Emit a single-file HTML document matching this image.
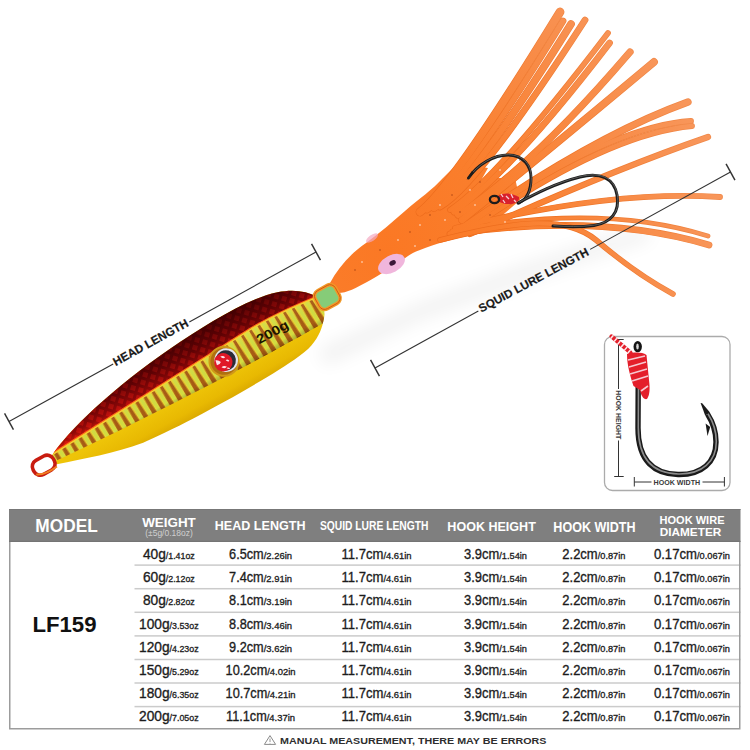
<!DOCTYPE html>
<html><head><meta charset="utf-8"><style>
html,body{margin:0;padding:0;background:#fff;}
body{width:750px;height:750px;position:relative;overflow:hidden;font-family:"Liberation Sans",sans-serif;}
.t{position:absolute;width:300px;text-align:center;white-space:nowrap;}
.s{font-size:9px;}
</style></head><body>
<svg style="position:absolute;left:0;top:0" width="750" height="750" viewBox="0 0 750 750">
<defs>
<radialGradient id="tg" cx="390" cy="250" r="330" gradientUnits="userSpaceOnUse">
 <stop offset="0" stop-color="#fb7824"/>
 <stop offset="0.35" stop-color="#fa7e2c"/>
 <stop offset="0.75" stop-color="#f88c48"/>
 <stop offset="1" stop-color="#f8965a"/>
</radialGradient>
<radialGradient id="tgd" cx="390" cy="250" r="330" gradientUnits="userSpaceOnUse">
 <stop offset="0" stop-color="#ec6818"/>
 <stop offset="0.5" stop-color="#ee7020"/>
 <stop offset="1" stop-color="#f08848"/>
</radialGradient>
<linearGradient id="yel" x1="0" y1="8" x2="0" y2="35" gradientUnits="userSpaceOnUse">
 <stop offset="0" stop-color="#eec408"/>
 <stop offset="0.6" stop-color="#e8b902"/>
 <stop offset="1" stop-color="#d8a600"/>
</linearGradient>
<linearGradient id="redg" x1="0" y1="-47" x2="0" y2="-4" gradientUnits="userSpaceOnUse">
 <stop offset="0" stop-color="#600406"/>
 <stop offset="0.08" stop-color="#420002"/>
 <stop offset="0.45" stop-color="#5e0204"/>
 <stop offset="0.8" stop-color="#900808"/>
 <stop offset="1" stop-color="#d01c0c"/>
</linearGradient>
<linearGradient id="redtop" x1="0" y1="-50" x2="0" y2="-10" gradientUnits="userSpaceOnUse">
 <stop offset="0" stop-color="#000" stop-opacity="0"/>
 <stop offset="1" stop-color="#000" stop-opacity="0"/>
</linearGradient>
<linearGradient id="bandshade" x1="0" y1="-18" x2="0" y2="12" gradientUnits="userSpaceOnUse">
 <stop offset="0" stop-color="#fff" stop-opacity="0.05"/>
 <stop offset="0.8" stop-color="#000" stop-opacity="0"/>
 <stop offset="1" stop-color="#402000" stop-opacity="0.25"/>
</linearGradient>
<pattern id="stripes" x="0" y="0" width="9.6" height="40" patternUnits="userSpaceOnUse" patternTransform="translate(0,-26) skewX(3)">
 <rect width="9.6" height="40" fill="#eed634"/>
 <rect x="0.8" width="3.6" height="40" fill="#c8de46" opacity="0.75"/>
 <path d="M6.2 0 L 8.2 0 L 9.6 40 L 4.4 40 Z" fill="#a85c14"/>
 <path d="M4.6 37 L 9.5 37 L 9.6 40 L 4.4 40 Z" fill="#7a3e0a"/>
</pattern>
<linearGradient id="scm" x1="0" y1="-46" x2="0" y2="-4" gradientUnits="userSpaceOnUse">
 <stop offset="0" stop-color="#fff" stop-opacity="0.15"/>
 <stop offset="0.5" stop-color="#fff" stop-opacity="0.5"/>
 <stop offset="1" stop-color="#fff" stop-opacity="1"/>
</linearGradient>
<mask id="scmask" maskUnits="userSpaceOnUse" x="-20" y="-70" width="360" height="80"><rect x="-20" y="-70" width="360" height="80" fill="url(#scm)"/></mask>
<pattern id="scales" width="8" height="8" patternUnits="userSpaceOnUse" patternTransform="rotate(45)">
 <rect x="1" y="1" width="5" height="5" fill="#ff2014" opacity="0.45"/>
</pattern>
<filter id="sh" x="-50%" y="-50%" width="200%" height="200%"><feGaussianBlur stdDeviation="9"/></filter>
</defs>
<path d="M318 350 L 420 303 L 520 266 L 600 240 L 650 226 L 650 240 L 600 256 L 520 284 L 420 320 L 325 366 Z" fill="#000" opacity="0.055" filter="url(#sh)"/><path d="M330 283 C 338 268 350 254 366 243 C 380 233 392 222 405 211 C 420 198 432 190 443 178 L 458 163 L 488 168 L 470 200 L 480 215 L 482 233 C 455 238 435 244 420 250 C 414 252 411 254 408 256 C 395 265 380 275 367 282 C 356 288 345 294 336 293 Z" fill="url(#tg)"/><path d="M450 205 L 490 178 L 515 178 L 520 200 L 482 233 Z" fill="url(#tg)"/><path d="M420.0 212.0 Q452.0 188.0 560.0 12.0" stroke="url(#tgd)" stroke-width="8.8" fill="none" stroke-linecap="round"/><path d="M427.0 210.0 Q463.0 184.5 563.0 21.0" stroke="url(#tgd)" stroke-width="6.8" fill="none" stroke-linecap="round"/><path d="M434.0 208.0 Q471.5 184.0 571.0 24.0" stroke="url(#tgd)" stroke-width="7.8" fill="none" stroke-linecap="round"/><path d="M440.0 207.0 Q477.5 186.5 585.0 20.0" stroke="url(#tgd)" stroke-width="6.8" fill="none" stroke-linecap="round"/><path d="M450.0 210.0 Q497.0 178.5 608.0 33.0" stroke="url(#tgd)" stroke-width="5.8" fill="none" stroke-linecap="round"/><path d="M454.0 212.0 Q510.2 172.5 609.5 43.0" stroke="url(#tgd)" stroke-width="6.8" fill="none" stroke-linecap="round"/><path d="M458.0 215.0 Q532.0 166.5 630.0 52.0" stroke="url(#tgd)" stroke-width="7.3" fill="none" stroke-linecap="round"/><path d="M462.0 220.0 Q538.0 159.0 654.0 62.0" stroke="url(#tgd)" stroke-width="7.8" fill="none" stroke-linecap="round"/><path d="M465.0 226.0 Q593.5 136.0 688.0 102.0" stroke="url(#tgd)" stroke-width="7.3" fill="none" stroke-linecap="round"/><path d="M466.0 226.0 Q607.5 126.5 691.0 121.0" stroke="url(#tgd)" stroke-width="5.8" fill="none" stroke-linecap="round"/><path d="M468.0 230.0 Q606.0 134.0 692.0 126.0" stroke="url(#tgd)" stroke-width="5.8" fill="none" stroke-linecap="round"/><path d="M470.0 234.0 Q611.0 170.5 708.0 137.0" stroke="url(#tgd)" stroke-width="6.3" fill="none" stroke-linecap="round"/><path d="M455.0 228.0 Q612.5 189.5 720.0 197.0" stroke="url(#tgd)" stroke-width="5.8" fill="none" stroke-linecap="round"/><path d="M452.0 231.0 Q600.0 202.5 708.0 236.0" stroke="url(#tgd)" stroke-width="4.8" fill="none" stroke-linecap="round"/><path d="M450.0 234.0 Q600.5 212.5 709.0 245.0" stroke="url(#tgd)" stroke-width="6.8" fill="none" stroke-linecap="round"/><path d="M420.0 212.0 Q452.0 188.0 560.0 12.0" stroke="url(#tg)" stroke-width="7.4" fill="none" stroke-linecap="round"/><path d="M427.0 210.0 Q463.0 184.5 563.0 21.0" stroke="url(#tg)" stroke-width="5.4" fill="none" stroke-linecap="round"/><path d="M434.0 208.0 Q471.5 184.0 571.0 24.0" stroke="url(#tg)" stroke-width="6.4" fill="none" stroke-linecap="round"/><path d="M440.0 207.0 Q477.5 186.5 585.0 20.0" stroke="url(#tg)" stroke-width="5.4" fill="none" stroke-linecap="round"/><path d="M450.0 210.0 Q497.0 178.5 608.0 33.0" stroke="url(#tg)" stroke-width="4.4" fill="none" stroke-linecap="round"/><path d="M454.0 212.0 Q510.2 172.5 609.5 43.0" stroke="url(#tg)" stroke-width="5.4" fill="none" stroke-linecap="round"/><path d="M458.0 215.0 Q532.0 166.5 630.0 52.0" stroke="url(#tg)" stroke-width="5.9" fill="none" stroke-linecap="round"/><path d="M462.0 220.0 Q538.0 159.0 654.0 62.0" stroke="url(#tg)" stroke-width="6.4" fill="none" stroke-linecap="round"/><path d="M465.0 226.0 Q593.5 136.0 688.0 102.0" stroke="url(#tg)" stroke-width="5.9" fill="none" stroke-linecap="round"/><path d="M466.0 226.0 Q607.5 126.5 691.0 121.0" stroke="url(#tg)" stroke-width="4.4" fill="none" stroke-linecap="round"/><path d="M468.0 230.0 Q606.0 134.0 692.0 126.0" stroke="url(#tg)" stroke-width="4.4" fill="none" stroke-linecap="round"/><path d="M470.0 234.0 Q611.0 170.5 708.0 137.0" stroke="url(#tg)" stroke-width="4.9" fill="none" stroke-linecap="round"/><path d="M455.0 228.0 Q612.5 189.5 720.0 197.0" stroke="url(#tg)" stroke-width="4.4" fill="none" stroke-linecap="round"/><path d="M452.0 231.0 Q600.0 202.5 708.0 236.0" stroke="url(#tg)" stroke-width="3.4" fill="none" stroke-linecap="round"/><path d="M450.0 234.0 Q600.5 212.5 709.0 245.0" stroke="url(#tg)" stroke-width="5.4" fill="none" stroke-linecap="round"/><path d="M440 240 C 510 222 565 214 596 240 C 613 254.5 640 276 673 294" stroke="url(#tgd)" stroke-width="5.6" fill="none" stroke-linecap="round"/><path d="M440 240 C 510 222 565 214 596 240 C 613 254.5 640 276 673 294" stroke="url(#tg)" stroke-width="4.3" fill="none" stroke-linecap="round"/><g transform="translate(391.5,264) rotate(-28)"><ellipse rx="14.5" ry="8.5" fill="#f0b6dc"/><ellipse cx="1.5" cy="-0.5" rx="3.4" ry="2.4" fill="#3a1838"/></g><ellipse cx="372" cy="238" rx="7" ry="3" transform="rotate(-35 372 238)" fill="#f4a8c0" opacity="0.7"/><circle cx="355" cy="270" r="0.8" fill="#a04010" opacity="0.85"/><circle cx="362" cy="262" r="0.8" fill="#fff" opacity="0.85"/><circle cx="380" cy="250" r="0.8" fill="#a04010" opacity="0.85"/><circle cx="398" cy="240" r="0.8" fill="#fff" opacity="0.85"/><circle cx="410" cy="232" r="0.8" fill="#a04010" opacity="0.85"/><circle cx="420" cy="225" r="0.8" fill="#fff" opacity="0.85"/><circle cx="430" cy="215" r="0.8" fill="#a04010" opacity="0.85"/><circle cx="440" cy="205" r="0.8" fill="#fff" opacity="0.85"/><circle cx="452" cy="195" r="0.8" fill="#a04010" opacity="0.85"/><circle cx="470" cy="190" r="0.8" fill="#fff" opacity="0.85"/><circle cx="480" cy="182" r="0.8" fill="#a04010" opacity="0.85"/><circle cx="500" cy="170" r="0.8" fill="#fff" opacity="0.85"/><circle cx="520" cy="160" r="0.8" fill="#a04010" opacity="0.85"/><circle cx="445" cy="220" r="0.8" fill="#fff" opacity="0.85"/><circle cx="460" cy="212" r="0.8" fill="#a04010" opacity="0.85"/><circle cx="475" cy="205" r="0.8" fill="#fff" opacity="0.85"/><circle cx="490" cy="215" r="0.8" fill="#a04010" opacity="0.85"/><circle cx="505" cy="222" r="0.8" fill="#fff" opacity="0.85"/><circle cx="430" cy="240" r="0.8" fill="#a04010" opacity="0.85"/><circle cx="415" cy="246" r="0.8" fill="#fff" opacity="0.85"/><path d="M468.5 178 C 478 164 494 155 508 155 C 524 155.5 531 166 531 178 C 531 191 527 199 519 203" stroke="#1c1c1c" stroke-width="2.9" fill="none" stroke-linecap="round"/><path d="M468.5 178 C 478 164 494 155 508 155 C 524 155.5 531 166 531 178 C 531 191 527 199 519 203" stroke="#6a6a6a" stroke-width="0.8" fill="none" transform="translate(0.3,-0.4)"/><path d="M518 203 C 535 194 556 183 580 177 C 600 172 614 178 617 195 C 620 212 611 223 594 225.5 C 580 227.5 566 227 553 226" stroke="#1c1c1c" stroke-width="3.0" fill="none" stroke-linecap="round"/><path d="M518 203 C 535 194 556 183 580 177 C 600 172 614 178 617 195 C 620 212 611 223 594 225.5 C 580 227.5 566 227 553 226" stroke="#6a6a6a" stroke-width="0.8" fill="none" transform="translate(0.3,-0.4)"/><path d="M466.5 180 L 472 171 L 474 173 Z" fill="#1c1c1c"/><path d="M497 197 C 503 192 512 193 519 197 C 520 201 515 205 508 204 C 502 204 498 202 497 197 Z" fill="#d8202c"/><path d="M501 194 l2 3 M506 196 l3 3 M511 194 l2 4 M503 200 l2 3 M514 200 l2 2" stroke="#f6d0d8" stroke-width="1.3"/><ellipse cx="494.5" cy="199.5" rx="4.6" ry="3.6" fill="none" stroke="#1c1c1c" stroke-width="2.3"/><g transform="translate(50,460) rotate(-28.7)"><clipPath id="bc"><path d="M 4 -3 C 30 -17 90 -33 160 -40 C 200 -44 250 -47 280 -38 C 296 -33 306 -25 313 -15 C 316 -6 312 4 306 10 C 300 17 292 23 280 26.5 C 265 29.5 250 31 230 31.5 C 180 33.5 120 32.5 90 29.5 C 60 25 30 15 4 7 Z"/></clipPath><path d="M 4 -3 C 30 -17 90 -33 160 -40 C 200 -44 250 -47 280 -38 C 296 -33 306 -25 313 -15 C 316 -6 312 4 306 10 C 300 17 292 23 280 26.5 C 265 29.5 250 31 230 31.5 C 180 33.5 120 32.5 90 29.5 C 60 25 30 15 4 7 Z" fill="url(#yel)"/><path d="M 0 -60 L 330 -60 L 330 -13 C 300 -17 270 -20 240 -19 C 150 -14 60 -7 0 -4 Z" fill="url(#redg)" clip-path="url(#bc)"/><g mask="url(#scmask)"><path d="M 0 -60 L 330 -60 L 330 -13 C 300 -17 270 -20 240 -19 C 150 -14 60 -7 0 -4 Z" fill="url(#scales)" clip-path="url(#bc)"/></g><path d="M 0 -60 L 330 -60 L 330 -50 L 0 -10 Z" fill="url(#redtop)" clip-path="url(#bc)"/><path d="M 0 -4 C 60 -7 150 -14 240 -19 C 270 -20 300 -17 330 -13 L 330 11 C 300 11 260 12 220 11.5 C 150 10 60 8 0 3 Z" fill="url(#stripes)" clip-path="url(#bc)"/><path d="M 0 -4 C 60 -7 150 -14 240 -19 C 270 -20 300 -17 330 -13 L 330 11 C 300 11 260 12 220 11.5 C 150 10 60 8 0 3 Z" fill="url(#bandshade)" clip-path="url(#bc)"/><path d="M 0 -4.5 C 60 -7.5 150 -14.5 240 -19.5 C 270 -20.5 300 -17.5 330 -13.5" stroke="#ff6a18" stroke-width="1.2" fill="none" clip-path="url(#bc)"/><path d="M 0 -3.3 C 60 -6.3 150 -13.3 240 -18.3 C 270 -19.3 300 -16.3 330 -12.3" stroke="#f6d030" stroke-width="1.4" fill="none" clip-path="url(#bc)"/><circle cx="200" cy="-3" r="15.5" fill="#d09818"/><circle cx="200" cy="-3" r="13.5" fill="#b07010"/><circle cx="202.5" cy="-3" r="11.8" fill="#e4e4ec"/><circle cx="202" cy="-3" r="10.2" fill="#2c2c38"/><circle cx="199" cy="-2.5" r="9.2" fill="#e01828"/><path d="M193 -8 q3 1 4 4 q-2 2 -5 1 z M199 -9 q3 0 4 3 q-3 1 -4 -3 z M195 1 q3 -1 5 2 q-3 2 -5 -2 z M202 -3 q2 -1 3 2 q-2 1 -3 -2 z M199 4 q2 0 3 2 q-2 1 -3 -2z" fill="#fbe4ea"/><text x="239" y="-1" font-size="13" font-weight="700" fill="#1c1400" font-family="Liberation Sans" textLength="35" lengthAdjust="spacingAndGlyphs">200g</text><rect x="-19.5" y="-6.5" width="23" height="16" rx="7" fill="none" stroke="#c81c10" stroke-width="3.6"/><path d="M -19 6 Q -12 11 3 9" stroke="#f08020" stroke-width="2" fill="none"/><rect x="310" y="-20" width="23" height="20.5" rx="6" fill="#86cc78" stroke="#f09a28" stroke-width="3.6"/><rect x="310" y="-20" width="23" height="20.5" rx="6" fill="none" stroke="#d05010" stroke-width="0.8" transform="translate(0,0)"/></g><path d="M9.00 421.50 L113.18 363.98" stroke="#333" stroke-width="1.1"/><path d="M189.34 321.93 L316.00 252.00" stroke="#333" stroke-width="1.1"/><path d="M4.55 413.45 L13.45 429.55" stroke="#333" stroke-width="1.4500000000000002"/><path d="M311.55 243.95 L320.45 260.05" stroke="#333" stroke-width="1.4500000000000002"/><text transform="translate(115.86,366.16) rotate(-28.90)" font-size="11.8" font-weight="700" fill="#1a1a1a" stroke="#1a1a1a" stroke-width="0.2" font-family="Liberation Sans" textLength="84" lengthAdjust="spacingAndGlyphs">HEAD LENGTH</text><path d="M375.00 368.00 L478.34 311.03" stroke="#333" stroke-width="1.1"/><path d="M590.16 249.37 L730.50 172.00" stroke="#333" stroke-width="1.1"/><path d="M370.56 359.94 L379.44 376.06" stroke="#333" stroke-width="1.4500000000000002"/><path d="M726.06 163.94 L734.94 180.06" stroke="#333" stroke-width="1.4500000000000002"/><text transform="translate(481.36,312.79) rotate(-28.27)" font-size="11.6" font-weight="700" fill="#1a1a1a" stroke="#1a1a1a" stroke-width="0.2" font-family="Liberation Sans" textLength="123" lengthAdjust="spacingAndGlyphs">SQUID LURE LENGTH</text><rect x="604.5" y="336.5" width="125.5" height="154" rx="8" fill="#fff" stroke="#ababab" stroke-width="1.3"/><path d="M618.5 339.5 V476.5 M614.2 339.5 H623.7 M614.2 476.5 H623.7" stroke="#333" stroke-width="1"/><rect x="615" y="389" width="8" height="51.5" fill="#fff"/><text transform="translate(616.2,390.3) rotate(90)" font-size="7.2" font-weight="700" fill="#3a3a3a" font-family="Liberation Sans" textLength="49" lengthAdjust="spacingAndGlyphs">HOOK HEIGHT</text><path d="M634.3 477 V486.5 M724.4 477 V486.5 M634.3 482 H724.4" stroke="#333" stroke-width="1"/><rect x="651.5" y="477.5" width="51" height="9" fill="#fff"/><text x="653.6" y="485.2" font-size="7.4" font-weight="700" fill="#3a3a3a" font-family="Liberation Sans" textLength="46.5" lengthAdjust="spacingAndGlyphs">HOOK WIDTH</text><path d="M638.2 386 L 638 428 C 638 462 655 474 678 474.5 C 702 475 716 462 716 442 C 716 430 712 421 707.5 414" stroke="#1a1a1a" stroke-width="5.4" fill="none" stroke-linecap="butt"/><path d="M638.2 386 L 638 428 C 638 462 655 474 678 474.5 C 702 475 716 462 716 442 C 716 430 712 421 707.5 414" stroke="#8c8c8c" stroke-width="1.6" fill="none" transform="translate(0.3,-0.5)"/><path d="M705.2 415.5 L 700.6 403 L 702.2 403.2 L 710 412.5 Z" fill="#1a1a1a"/><path d="M710.2 427 L 705.6 423.5 L 707.5 436 Z" fill="#1a1a1a"/><ellipse cx="637.7" cy="346.7" rx="4.2" ry="5.6" fill="#151515"/><ellipse cx="637.5" cy="346.5" rx="1.3" ry="3" fill="#d8d8d8"/><path d="M611.5 336.4 L 630.5 352.5" stroke="#e4202c" stroke-width="4.2" stroke-linecap="round"/><path d="M611.5 336.4 L 630.5 352.5" stroke="#fff" stroke-width="4.2" stroke-dasharray="1.5 3" opacity="0.9"/><path d="M627 354 C 634 352 642 352 646.5 355 L 649 380 C 650 388 650 395 647 399 C 644 400 641 396 640 390 L 633.5 386 C 630 375 627 365 627 354 Z" fill="#e41e2a"/><path d="M628 360 L 645 356 M629 367 L 646 362 M630 374 L 647 369 M632 381 L 648 376 M641 391 L 648 386" stroke="#f6c8d0" stroke-width="1.6" fill="none"/></svg>
<svg style="position:absolute;left:0;top:0" width="750" height="750" viewBox="0 0 750 750" font-family="Liberation Sans"><rect x="9" y="509" width="731.5" height="33" fill="#7f7f7f"/><rect x="9" y="509" width="731.5" height="1" fill="#777"/><rect x="9" y="540.8" width="731.5" height="1.2" fill="#747474"/><rect x="134.5" y="564.35" width="606.0" height="1.5" fill="#cbcbcb"/><rect x="134.5" y="587.95" width="606.0" height="1.5" fill="#cbcbcb"/><rect x="134.5" y="611.55" width="606.0" height="1.5" fill="#cbcbcb"/><rect x="134.5" y="635.15" width="606.0" height="1.5" fill="#cbcbcb"/><rect x="134.5" y="658.75" width="606.0" height="1.5" fill="#cbcbcb"/><rect x="134.5" y="682.25" width="606.0" height="1.5" fill="#cbcbcb"/><rect x="134.5" y="705.85" width="606.0" height="1.5" fill="#cbcbcb"/><path d="M9.75 542 V728.7 H739.75 V542" fill="none" stroke="#9c9c9c" stroke-width="1.5"/><text x="35.36" y="531.75" font-size="18.46" font-weight="700" fill="#fff" textLength="62.38" lengthAdjust="spacingAndGlyphs" >MODEL</text><text x="142.19" y="526.95" font-size="12.65" font-weight="700" fill="#fff" textLength="53.61" lengthAdjust="spacingAndGlyphs" >WEIGHT</text><text x="145.17" y="536.30" font-size="8.30" font-weight="400" fill="#cfcfcf" textLength="47.66" lengthAdjust="spacingAndGlyphs" >(±5g/0.18oz)</text><text x="214.78" y="529.95" font-size="13.08" font-weight="700" fill="#fff" textLength="90.75" lengthAdjust="spacingAndGlyphs" >HEAD LENGTH</text><text x="319.89" y="529.95" font-size="12.65" font-weight="700" fill="#fff" textLength="108.51" lengthAdjust="spacingAndGlyphs" >SQUID LURE LENGTH</text><text x="447.37" y="531.25" font-size="13.23" font-weight="700" fill="#fff" textLength="88.46" lengthAdjust="spacingAndGlyphs" >HOOK HEIGHT</text><text x="553.34" y="531.55" font-size="14.10" font-weight="700" fill="#fff" textLength="82.23" lengthAdjust="spacingAndGlyphs" >HOOK WIDTH</text><text x="659.49" y="523.55" font-size="10.32" font-weight="700" fill="#fff" textLength="65.03" lengthAdjust="spacingAndGlyphs" >HOOK WIRE</text><text x="659.68" y="535.85" font-size="10.61" font-weight="700" fill="#fff" textLength="61.65" lengthAdjust="spacingAndGlyphs" >DIAMETER</text><text x="32.38" y="632.25" font-size="22.97" font-weight="700" fill="#111" textLength="64.14" lengthAdjust="spacingAndGlyphs" >LF159</text><text x="142.90" y="559.00" font-size="14.6" fill="#1c1c1c" stroke="#1c1c1c" stroke-width="0.35" textLength="22.90" lengthAdjust="spacingAndGlyphs">40g</text><text x="165.80" y="559.00" font-size="8.9" fill="#1c1c1c" stroke="#1c1c1c" stroke-width="0.3" textLength="29.00" lengthAdjust="spacingAndGlyphs">/1.41oz</text><text x="142.90" y="582.20" font-size="14.6" fill="#1c1c1c" stroke="#1c1c1c" stroke-width="0.35" textLength="22.90" lengthAdjust="spacingAndGlyphs">60g</text><text x="165.80" y="582.20" font-size="8.9" fill="#1c1c1c" stroke="#1c1c1c" stroke-width="0.3" textLength="29.00" lengthAdjust="spacingAndGlyphs">/2.12oz</text><text x="142.90" y="605.40" font-size="14.6" fill="#1c1c1c" stroke="#1c1c1c" stroke-width="0.35" textLength="22.90" lengthAdjust="spacingAndGlyphs">80g</text><text x="165.80" y="605.40" font-size="8.9" fill="#1c1c1c" stroke="#1c1c1c" stroke-width="0.3" textLength="29.00" lengthAdjust="spacingAndGlyphs">/2.82oz</text><text x="139.08" y="628.60" font-size="14.6" fill="#1c1c1c" stroke="#1c1c1c" stroke-width="0.35" textLength="30.53" lengthAdjust="spacingAndGlyphs">100g</text><text x="169.62" y="628.60" font-size="8.9" fill="#1c1c1c" stroke="#1c1c1c" stroke-width="0.3" textLength="29.00" lengthAdjust="spacingAndGlyphs">/3.53oz</text><text x="139.08" y="651.80" font-size="14.6" fill="#1c1c1c" stroke="#1c1c1c" stroke-width="0.35" textLength="30.53" lengthAdjust="spacingAndGlyphs">120g</text><text x="169.62" y="651.80" font-size="8.9" fill="#1c1c1c" stroke="#1c1c1c" stroke-width="0.3" textLength="29.00" lengthAdjust="spacingAndGlyphs">/4.23oz</text><text x="139.08" y="675.00" font-size="14.6" fill="#1c1c1c" stroke="#1c1c1c" stroke-width="0.35" textLength="30.53" lengthAdjust="spacingAndGlyphs">150g</text><text x="169.62" y="675.00" font-size="8.9" fill="#1c1c1c" stroke="#1c1c1c" stroke-width="0.3" textLength="29.00" lengthAdjust="spacingAndGlyphs">/5.29oz</text><text x="139.08" y="698.20" font-size="14.6" fill="#1c1c1c" stroke="#1c1c1c" stroke-width="0.35" textLength="30.53" lengthAdjust="spacingAndGlyphs">180g</text><text x="169.62" y="698.20" font-size="8.9" fill="#1c1c1c" stroke="#1c1c1c" stroke-width="0.3" textLength="29.00" lengthAdjust="spacingAndGlyphs">/6.35oz</text><text x="139.08" y="721.40" font-size="14.6" fill="#1c1c1c" stroke="#1c1c1c" stroke-width="0.35" textLength="30.53" lengthAdjust="spacingAndGlyphs">200g</text><text x="169.62" y="721.40" font-size="8.9" fill="#1c1c1c" stroke="#1c1c1c" stroke-width="0.3" textLength="29.00" lengthAdjust="spacingAndGlyphs">/7.05oz</text><text x="229.10" y="559.00" font-size="14.6" fill="#1c1c1c" stroke="#1c1c1c" stroke-width="0.35" textLength="34.60" lengthAdjust="spacingAndGlyphs">6.5cm</text><text x="263.70" y="559.00" font-size="8.9" fill="#1c1c1c" stroke="#1c1c1c" stroke-width="0.3" textLength="28.30" lengthAdjust="spacingAndGlyphs">/2.26in</text><text x="229.10" y="582.20" font-size="14.6" fill="#1c1c1c" stroke="#1c1c1c" stroke-width="0.35" textLength="34.60" lengthAdjust="spacingAndGlyphs">7.4cm</text><text x="263.70" y="582.20" font-size="8.9" fill="#1c1c1c" stroke="#1c1c1c" stroke-width="0.3" textLength="28.30" lengthAdjust="spacingAndGlyphs">/2.91in</text><text x="229.10" y="605.40" font-size="14.6" fill="#1c1c1c" stroke="#1c1c1c" stroke-width="0.35" textLength="34.60" lengthAdjust="spacingAndGlyphs">8.1cm</text><text x="263.70" y="605.40" font-size="8.9" fill="#1c1c1c" stroke="#1c1c1c" stroke-width="0.3" textLength="28.30" lengthAdjust="spacingAndGlyphs">/3.19in</text><text x="229.10" y="628.60" font-size="14.6" fill="#1c1c1c" stroke="#1c1c1c" stroke-width="0.35" textLength="34.60" lengthAdjust="spacingAndGlyphs">8.8cm</text><text x="263.70" y="628.60" font-size="8.9" fill="#1c1c1c" stroke="#1c1c1c" stroke-width="0.3" textLength="28.30" lengthAdjust="spacingAndGlyphs">/3.46in</text><text x="229.10" y="651.80" font-size="14.6" fill="#1c1c1c" stroke="#1c1c1c" stroke-width="0.35" textLength="34.60" lengthAdjust="spacingAndGlyphs">9.2cm</text><text x="263.70" y="651.80" font-size="8.9" fill="#1c1c1c" stroke="#1c1c1c" stroke-width="0.3" textLength="28.30" lengthAdjust="spacingAndGlyphs">/3.62in</text><text x="225.57" y="675.00" font-size="14.6" fill="#1c1c1c" stroke="#1c1c1c" stroke-width="0.35" textLength="41.67" lengthAdjust="spacingAndGlyphs">10.2cm</text><text x="267.23" y="675.00" font-size="8.9" fill="#1c1c1c" stroke="#1c1c1c" stroke-width="0.3" textLength="28.30" lengthAdjust="spacingAndGlyphs">/4.02in</text><text x="225.57" y="698.20" font-size="14.6" fill="#1c1c1c" stroke="#1c1c1c" stroke-width="0.35" textLength="41.67" lengthAdjust="spacingAndGlyphs">10.7cm</text><text x="267.23" y="698.20" font-size="8.9" fill="#1c1c1c" stroke="#1c1c1c" stroke-width="0.3" textLength="28.30" lengthAdjust="spacingAndGlyphs">/4.21in</text><text x="226.04" y="721.40" font-size="14.6" fill="#1c1c1c" stroke="#1c1c1c" stroke-width="0.35" textLength="40.72" lengthAdjust="spacingAndGlyphs">11.1cm</text><text x="266.76" y="721.40" font-size="8.9" fill="#1c1c1c" stroke="#1c1c1c" stroke-width="0.3" textLength="28.30" lengthAdjust="spacingAndGlyphs">/4.37in</text><text x="341.40" y="559.00" font-size="14.6" fill="#1c1c1c" stroke="#1c1c1c" stroke-width="0.35" textLength="42.00" lengthAdjust="spacingAndGlyphs">11.7cm</text><text x="383.40" y="559.00" font-size="8.9" fill="#1c1c1c" stroke="#1c1c1c" stroke-width="0.3" textLength="28.20" lengthAdjust="spacingAndGlyphs">/4.61in</text><text x="341.40" y="582.20" font-size="14.6" fill="#1c1c1c" stroke="#1c1c1c" stroke-width="0.35" textLength="42.00" lengthAdjust="spacingAndGlyphs">11.7cm</text><text x="383.40" y="582.20" font-size="8.9" fill="#1c1c1c" stroke="#1c1c1c" stroke-width="0.3" textLength="28.20" lengthAdjust="spacingAndGlyphs">/4.61in</text><text x="341.40" y="605.40" font-size="14.6" fill="#1c1c1c" stroke="#1c1c1c" stroke-width="0.35" textLength="42.00" lengthAdjust="spacingAndGlyphs">11.7cm</text><text x="383.40" y="605.40" font-size="8.9" fill="#1c1c1c" stroke="#1c1c1c" stroke-width="0.3" textLength="28.20" lengthAdjust="spacingAndGlyphs">/4.61in</text><text x="341.40" y="628.60" font-size="14.6" fill="#1c1c1c" stroke="#1c1c1c" stroke-width="0.35" textLength="42.00" lengthAdjust="spacingAndGlyphs">11.7cm</text><text x="383.40" y="628.60" font-size="8.9" fill="#1c1c1c" stroke="#1c1c1c" stroke-width="0.3" textLength="28.20" lengthAdjust="spacingAndGlyphs">/4.61in</text><text x="341.40" y="651.80" font-size="14.6" fill="#1c1c1c" stroke="#1c1c1c" stroke-width="0.35" textLength="42.00" lengthAdjust="spacingAndGlyphs">11.7cm</text><text x="383.40" y="651.80" font-size="8.9" fill="#1c1c1c" stroke="#1c1c1c" stroke-width="0.3" textLength="28.20" lengthAdjust="spacingAndGlyphs">/4.61in</text><text x="341.40" y="675.00" font-size="14.6" fill="#1c1c1c" stroke="#1c1c1c" stroke-width="0.35" textLength="42.00" lengthAdjust="spacingAndGlyphs">11.7cm</text><text x="383.40" y="675.00" font-size="8.9" fill="#1c1c1c" stroke="#1c1c1c" stroke-width="0.3" textLength="28.20" lengthAdjust="spacingAndGlyphs">/4.61in</text><text x="341.40" y="698.20" font-size="14.6" fill="#1c1c1c" stroke="#1c1c1c" stroke-width="0.35" textLength="42.00" lengthAdjust="spacingAndGlyphs">11.7cm</text><text x="383.40" y="698.20" font-size="8.9" fill="#1c1c1c" stroke="#1c1c1c" stroke-width="0.3" textLength="28.20" lengthAdjust="spacingAndGlyphs">/4.61in</text><text x="341.40" y="721.40" font-size="14.6" fill="#1c1c1c" stroke="#1c1c1c" stroke-width="0.35" textLength="42.00" lengthAdjust="spacingAndGlyphs">11.7cm</text><text x="383.40" y="721.40" font-size="8.9" fill="#1c1c1c" stroke="#1c1c1c" stroke-width="0.3" textLength="28.20" lengthAdjust="spacingAndGlyphs">/4.61in</text><text x="464.10" y="559.00" font-size="14.6" fill="#1c1c1c" stroke="#1c1c1c" stroke-width="0.35" textLength="35.20" lengthAdjust="spacingAndGlyphs">3.9cm</text><text x="499.30" y="559.00" font-size="8.9" fill="#1c1c1c" stroke="#1c1c1c" stroke-width="0.3" textLength="27.70" lengthAdjust="spacingAndGlyphs">/1.54in</text><text x="464.10" y="582.20" font-size="14.6" fill="#1c1c1c" stroke="#1c1c1c" stroke-width="0.35" textLength="35.20" lengthAdjust="spacingAndGlyphs">3.9cm</text><text x="499.30" y="582.20" font-size="8.9" fill="#1c1c1c" stroke="#1c1c1c" stroke-width="0.3" textLength="27.70" lengthAdjust="spacingAndGlyphs">/1.54in</text><text x="464.10" y="605.40" font-size="14.6" fill="#1c1c1c" stroke="#1c1c1c" stroke-width="0.35" textLength="35.20" lengthAdjust="spacingAndGlyphs">3.9cm</text><text x="499.30" y="605.40" font-size="8.9" fill="#1c1c1c" stroke="#1c1c1c" stroke-width="0.3" textLength="27.70" lengthAdjust="spacingAndGlyphs">/1.54in</text><text x="464.10" y="628.60" font-size="14.6" fill="#1c1c1c" stroke="#1c1c1c" stroke-width="0.35" textLength="35.20" lengthAdjust="spacingAndGlyphs">3.9cm</text><text x="499.30" y="628.60" font-size="8.9" fill="#1c1c1c" stroke="#1c1c1c" stroke-width="0.3" textLength="27.70" lengthAdjust="spacingAndGlyphs">/1.54in</text><text x="464.10" y="651.80" font-size="14.6" fill="#1c1c1c" stroke="#1c1c1c" stroke-width="0.35" textLength="35.20" lengthAdjust="spacingAndGlyphs">3.9cm</text><text x="499.30" y="651.80" font-size="8.9" fill="#1c1c1c" stroke="#1c1c1c" stroke-width="0.3" textLength="27.70" lengthAdjust="spacingAndGlyphs">/1.54in</text><text x="464.10" y="675.00" font-size="14.6" fill="#1c1c1c" stroke="#1c1c1c" stroke-width="0.35" textLength="35.20" lengthAdjust="spacingAndGlyphs">3.9cm</text><text x="499.30" y="675.00" font-size="8.9" fill="#1c1c1c" stroke="#1c1c1c" stroke-width="0.3" textLength="27.70" lengthAdjust="spacingAndGlyphs">/1.54in</text><text x="464.10" y="698.20" font-size="14.6" fill="#1c1c1c" stroke="#1c1c1c" stroke-width="0.35" textLength="35.20" lengthAdjust="spacingAndGlyphs">3.9cm</text><text x="499.30" y="698.20" font-size="8.9" fill="#1c1c1c" stroke="#1c1c1c" stroke-width="0.3" textLength="27.70" lengthAdjust="spacingAndGlyphs">/1.54in</text><text x="464.10" y="721.40" font-size="14.6" fill="#1c1c1c" stroke="#1c1c1c" stroke-width="0.35" textLength="35.20" lengthAdjust="spacingAndGlyphs">3.9cm</text><text x="499.30" y="721.40" font-size="8.9" fill="#1c1c1c" stroke="#1c1c1c" stroke-width="0.3" textLength="27.70" lengthAdjust="spacingAndGlyphs">/1.54in</text><text x="562.30" y="559.00" font-size="14.6" fill="#1c1c1c" stroke="#1c1c1c" stroke-width="0.35" textLength="35.40" lengthAdjust="spacingAndGlyphs">2.2cm</text><text x="597.70" y="559.00" font-size="8.9" fill="#1c1c1c" stroke="#1c1c1c" stroke-width="0.3" textLength="27.70" lengthAdjust="spacingAndGlyphs">/0.87in</text><text x="562.30" y="582.20" font-size="14.6" fill="#1c1c1c" stroke="#1c1c1c" stroke-width="0.35" textLength="35.40" lengthAdjust="spacingAndGlyphs">2.2cm</text><text x="597.70" y="582.20" font-size="8.9" fill="#1c1c1c" stroke="#1c1c1c" stroke-width="0.3" textLength="27.70" lengthAdjust="spacingAndGlyphs">/0.87in</text><text x="562.30" y="605.40" font-size="14.6" fill="#1c1c1c" stroke="#1c1c1c" stroke-width="0.35" textLength="35.40" lengthAdjust="spacingAndGlyphs">2.2cm</text><text x="597.70" y="605.40" font-size="8.9" fill="#1c1c1c" stroke="#1c1c1c" stroke-width="0.3" textLength="27.70" lengthAdjust="spacingAndGlyphs">/0.87in</text><text x="562.30" y="628.60" font-size="14.6" fill="#1c1c1c" stroke="#1c1c1c" stroke-width="0.35" textLength="35.40" lengthAdjust="spacingAndGlyphs">2.2cm</text><text x="597.70" y="628.60" font-size="8.9" fill="#1c1c1c" stroke="#1c1c1c" stroke-width="0.3" textLength="27.70" lengthAdjust="spacingAndGlyphs">/0.87in</text><text x="562.30" y="651.80" font-size="14.6" fill="#1c1c1c" stroke="#1c1c1c" stroke-width="0.35" textLength="35.40" lengthAdjust="spacingAndGlyphs">2.2cm</text><text x="597.70" y="651.80" font-size="8.9" fill="#1c1c1c" stroke="#1c1c1c" stroke-width="0.3" textLength="27.70" lengthAdjust="spacingAndGlyphs">/0.87in</text><text x="562.30" y="675.00" font-size="14.6" fill="#1c1c1c" stroke="#1c1c1c" stroke-width="0.35" textLength="35.40" lengthAdjust="spacingAndGlyphs">2.2cm</text><text x="597.70" y="675.00" font-size="8.9" fill="#1c1c1c" stroke="#1c1c1c" stroke-width="0.3" textLength="27.70" lengthAdjust="spacingAndGlyphs">/0.87in</text><text x="562.30" y="698.20" font-size="14.6" fill="#1c1c1c" stroke="#1c1c1c" stroke-width="0.35" textLength="35.40" lengthAdjust="spacingAndGlyphs">2.2cm</text><text x="597.70" y="698.20" font-size="8.9" fill="#1c1c1c" stroke="#1c1c1c" stroke-width="0.3" textLength="27.70" lengthAdjust="spacingAndGlyphs">/0.87in</text><text x="562.30" y="721.40" font-size="14.6" fill="#1c1c1c" stroke="#1c1c1c" stroke-width="0.35" textLength="35.40" lengthAdjust="spacingAndGlyphs">2.2cm</text><text x="597.70" y="721.40" font-size="8.9" fill="#1c1c1c" stroke="#1c1c1c" stroke-width="0.3" textLength="27.70" lengthAdjust="spacingAndGlyphs">/0.87in</text><text x="653.90" y="559.00" font-size="14.6" fill="#1c1c1c" stroke="#1c1c1c" stroke-width="0.35" textLength="43.10" lengthAdjust="spacingAndGlyphs">0.17cm</text><text x="697.00" y="559.00" font-size="8.9" fill="#1c1c1c" stroke="#1c1c1c" stroke-width="0.3" textLength="32.90" lengthAdjust="spacingAndGlyphs">/0.067in</text><text x="653.90" y="582.20" font-size="14.6" fill="#1c1c1c" stroke="#1c1c1c" stroke-width="0.35" textLength="43.10" lengthAdjust="spacingAndGlyphs">0.17cm</text><text x="697.00" y="582.20" font-size="8.9" fill="#1c1c1c" stroke="#1c1c1c" stroke-width="0.3" textLength="32.90" lengthAdjust="spacingAndGlyphs">/0.067in</text><text x="653.90" y="605.40" font-size="14.6" fill="#1c1c1c" stroke="#1c1c1c" stroke-width="0.35" textLength="43.10" lengthAdjust="spacingAndGlyphs">0.17cm</text><text x="697.00" y="605.40" font-size="8.9" fill="#1c1c1c" stroke="#1c1c1c" stroke-width="0.3" textLength="32.90" lengthAdjust="spacingAndGlyphs">/0.067in</text><text x="653.90" y="628.60" font-size="14.6" fill="#1c1c1c" stroke="#1c1c1c" stroke-width="0.35" textLength="43.10" lengthAdjust="spacingAndGlyphs">0.17cm</text><text x="697.00" y="628.60" font-size="8.9" fill="#1c1c1c" stroke="#1c1c1c" stroke-width="0.3" textLength="32.90" lengthAdjust="spacingAndGlyphs">/0.067in</text><text x="653.90" y="651.80" font-size="14.6" fill="#1c1c1c" stroke="#1c1c1c" stroke-width="0.35" textLength="43.10" lengthAdjust="spacingAndGlyphs">0.17cm</text><text x="697.00" y="651.80" font-size="8.9" fill="#1c1c1c" stroke="#1c1c1c" stroke-width="0.3" textLength="32.90" lengthAdjust="spacingAndGlyphs">/0.067in</text><text x="653.90" y="675.00" font-size="14.6" fill="#1c1c1c" stroke="#1c1c1c" stroke-width="0.35" textLength="43.10" lengthAdjust="spacingAndGlyphs">0.17cm</text><text x="697.00" y="675.00" font-size="8.9" fill="#1c1c1c" stroke="#1c1c1c" stroke-width="0.3" textLength="32.90" lengthAdjust="spacingAndGlyphs">/0.067in</text><text x="653.90" y="698.20" font-size="14.6" fill="#1c1c1c" stroke="#1c1c1c" stroke-width="0.35" textLength="43.10" lengthAdjust="spacingAndGlyphs">0.17cm</text><text x="697.00" y="698.20" font-size="8.9" fill="#1c1c1c" stroke="#1c1c1c" stroke-width="0.3" textLength="32.90" lengthAdjust="spacingAndGlyphs">/0.067in</text><text x="653.90" y="721.40" font-size="14.6" fill="#1c1c1c" stroke="#1c1c1c" stroke-width="0.35" textLength="43.10" lengthAdjust="spacingAndGlyphs">0.17cm</text><text x="697.00" y="721.40" font-size="8.9" fill="#1c1c1c" stroke="#1c1c1c" stroke-width="0.3" textLength="32.90" lengthAdjust="spacingAndGlyphs">/0.067in</text><path d="M270 735.6 L275.6 744.4 L264.4 744.4 Z" fill="none" stroke="#8a8a8a" stroke-width="1" stroke-linejoin="round"/><path d="M270 738.6 V742" stroke="#8a8a8a" stroke-width="0.9"/><circle cx="270" cy="743.2" r="0.45" fill="#8a8a8a"/><text x="280.05" y="744.15" font-size="8.87" font-weight="700" fill="#2e2e2e" textLength="266.41" lengthAdjust="spacingAndGlyphs" >MANUAL MEASUREMENT, THERE MAY BE ERRORS</text></svg>
</body></html>
